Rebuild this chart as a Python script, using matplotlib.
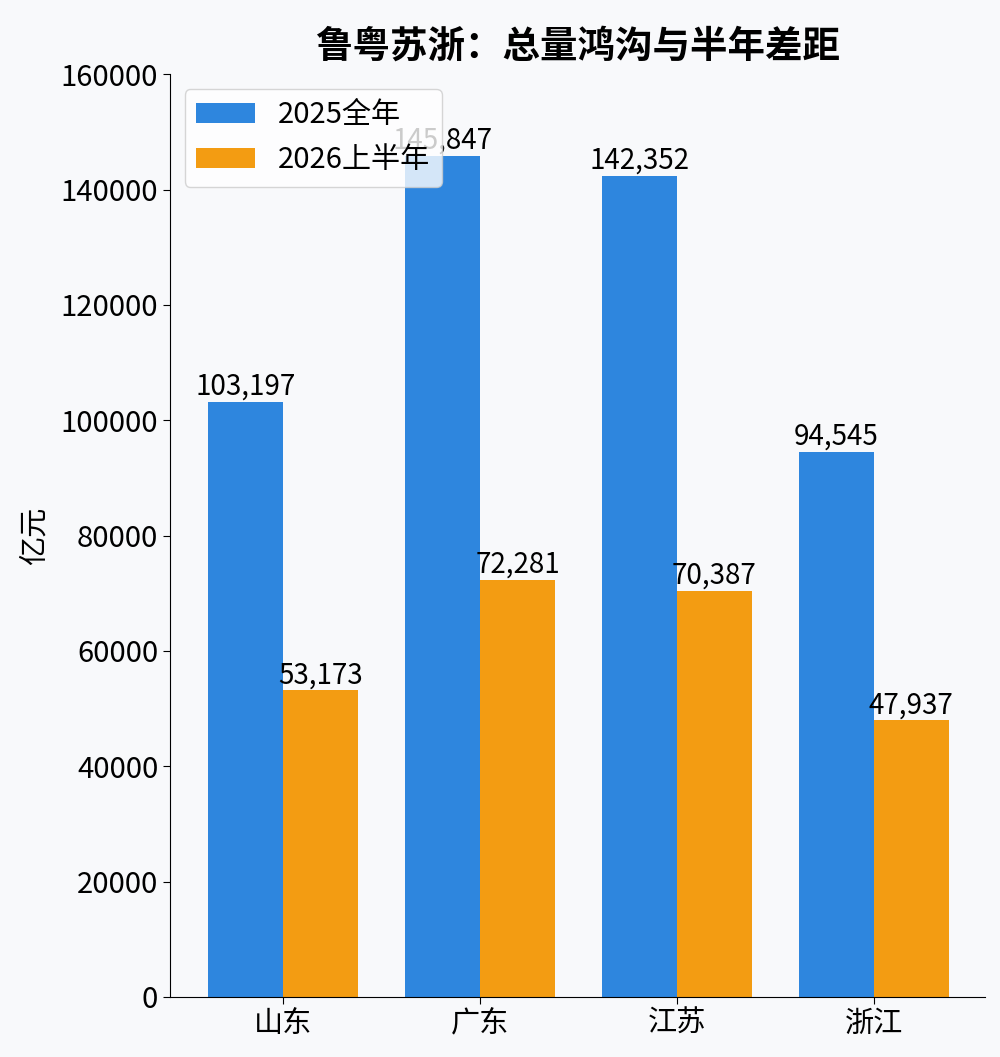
import numpy as np
import matplotlib.pyplot as plt

plt.rcParams['font.family'] = ['Noto Sans CJK SC', 'DejaVu Sans']

# 数据
provinces = ["山东", "广东", "江苏", "浙江"]
gdp_2025 = [103197, 145847, 142352, 94545]
gdp_2026h1 = [53173, 72281, 70387, 47937]

bg = '#f8f9fb'
fig = plt.figure(figsize=(10, 10.57), dpi=100, facecolor=bg)
ax = fig.add_axes([0.17, 0.0568, 0.815, 0.873], facecolor=bg)

x = np.arange(len(provinces))
w = 0.38
b1 = ax.bar(x - w/2, gdp_2025, w, label="2025全年", color='#2e86de')
b2 = ax.bar(x + w/2, gdp_2026h1, w, label="2026上半年", color='#f39c12')
ax.bar_label(b1, labels=[f"{v:,}" for v in gdp_2025], fontsize=20, padding=0)
ax.bar_label(b2, labels=[f"{v:,}" for v in gdp_2026h1], fontsize=20, padding=0)

ax.set_xticks(x)
ax.set_xticklabels(provinces)
ax.set_xlim(-0.575, 3.565)
ax.set_ylim(0, 160000)
ax.tick_params(labelsize=21, length=5)
ax.set_ylabel("亿元", fontsize=21, labelpad=8)
ax.set_title("鲁粤苏浙：总量鸿沟与半年差距", fontsize=27, fontweight='black', pad=12)
ax.spines['top'].set_visible(False)
ax.spines['right'].set_visible(False)
ax.legend(loc='upper left', fontsize=21)

fig.savefig("out.png", dpi=100, facecolor=bg)
